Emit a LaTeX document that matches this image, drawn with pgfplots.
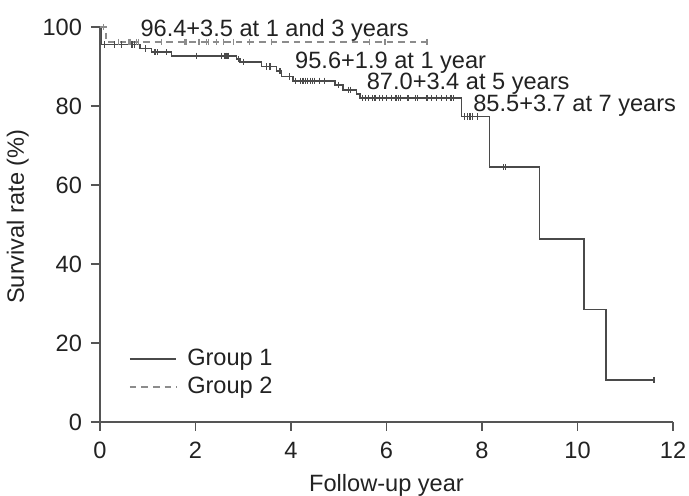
\documentclass[border=0pt]{standalone}
\usepackage{fontspec}
\setmainfont{Liberation Sans}
\usepackage{pgfplots}
\pgfplotsset{compat=1.18}
\definecolor{axgray}{HTML}{555555}
\definecolor{gone}{HTML}{4A4A4A}
\definecolor{gtwo}{HTML}{8C8C8C}
\definecolor{txt}{HTML}{222222}
\begin{document}
\begin{tikzpicture}
\begin{axis}[
  scale only axis,
  width=286.5pt, height=197.5pt,
  xmin=0, xmax=12, ymin=0, ymax=100,
  axis lines*=left,
  axis line style={axgray, line width=0.8pt, -},
  xtick={0,2,...,12}, ytick={0,20,...,100},
  tick align=outside,
  major tick length=4.5pt,
  tick style={axgray, line width=0.8pt},
  font=\fontsize{11.8}{14}\selectfont,
  every tick label/.append style={txt},
  xticklabel style={yshift=-2pt},
  yticklabel style={xshift=-1pt},
  /pgf/number format/assume math mode=true,
  xlabel={Follow-up year},
  ylabel={Survival rate (\%)},
  xlabel style={txt, yshift=-1pt},
  ylabel style={txt, at={(ticklabel cs:0.52)}},
  clip=false,
  legend style={draw=none, fill=none, at={(axis cs:0.6,19.6)}, anchor=north west,
    inner sep=0pt, row sep=0.5pt, font=\fontsize{11.8}{14}\selectfont, text=txt},
  legend cell align=left,
  legend image code/.code={\draw[#1] (0pt,0pt) -- (23.3pt,0pt); \path (26.3pt,0pt);},
]
% Group 1 step curve
\addplot[const plot, gone, line width=0.8pt] coordinates {
(0,100) (0.03,95.6) (0.84,94.6) (1.08,93.6) (1.5,92.7) (2.86,91.9) (2.93,91.1)
(3.38,90.0) (3.70,88.8) (3.80,87.5) (4.04,86.4) (4.92,85.3) (5.09,84.1) (5.37,83.0)
(5.44,82.0) (7.57,77.3) (8.16,64.5) (9.2,46.3) (10.13,28.5) (10.6,10.6) (11.6,10.6)
};
\addlegendentry{Group 1}
% Group 2 step curve
\addplot[const plot, gtwo, line width=0.8pt, dash pattern=on 3.3pt off 2.5pt] coordinates {
(0,100) (0.12,96.2) (6.85,96.2)
};
\addlegendentry{Group 2}
% Group 1 censored
\addplot[only marks, mark=|, mark size=1.6pt, gone, mark options={line width=0.6pt}, forget plot] coordinates {
(0.1,95.6) (0.3,95.6) (0.45,95.6) (0.67,95.6) (0.72,95.6) (0.95,94.6) (1.15,93.6) (1.2,93.6)
(1.4,93.6) (2.02,92.7) (2.55,92.7) (2.6,92.7) (2.64,92.7) (2.68,92.7) (2.9,91.9) (3.0,91.1)
(3.49,90.0) (3.56,90.0) (3.77,88.8) (3.97,87.5) (4.1,86.4) (4.2,86.4) (4.25,86.4) (4.3,86.4)
(4.35,86.4) (4.4,86.4) (4.45,86.4) (4.5,86.4) (4.6,86.4) (4.7,86.4) (5.0,85.3) (5.2,84.1)
(5.25,84.1) (5.5,82.0) (5.56,82.0) (5.62,82.0) (5.7,82.0) (5.76,82.0) (5.85,82.0) (5.92,82.0)
(6.0,82.0) (6.1,82.0) (6.2,82.0) (6.25,82.0) (6.3,82.0) (6.45,82.0) (6.6,82.0) (6.65,82.0)
(6.85,82.0) (6.95,82.0) (7.05,82.0) (7.15,82.0) (7.25,82.0) (7.35,82.0) (7.4,82.0)
(7.64,77.3) (7.7,77.3) (7.75,77.3) (7.8,77.3) (7.9,77.3) (8.45,64.5) (8.5,64.5) (11.6,10.6)
};
% Group 2 censored
\addplot[only marks, mark=|, mark size=1.6pt, gtwo, mark options={line width=0.6pt}, forget plot] coordinates {
(0.08,100) (0.38,96.2) (0.59,96.2) (0.63,96.2) (0.77,96.2) (0.8,96.2) (1.29,96.2) (1.78,96.2)
(1.81,96.2) (2.06,96.2) (2.09,96.2) (2.23,96.2) (2.27,96.2) (2.44,96.2) (2.58,96.2) (2.79,96.2)
(3.13,96.2) (3.59,96.2) (5.65,96.2) (5.97,96.2) (6.85,96.2)
};
% annotations
\node[anchor=base west, inner sep=0pt, text=txt] at (axis cs:0.84,97.5) {96.4+3.5 at 1 and 3 years};
\node[anchor=base west, inner sep=0pt, text=txt] at (axis cs:4.08,89.5) {95.6+1.9 at 1 year};
\node[anchor=base west, inner sep=0pt, text=txt] at (axis cs:5.58,84.05) {87.0+3.4 at 5 years};
\node[anchor=base west, inner sep=0pt, text=txt] at (axis cs:7.81,78.6) {85.5+3.7 at 7 years};
\end{axis}
\pgfresetboundingbox
\path[use as bounding box] ([xshift=-50pt,yshift=-37pt]current axis.south west) rectangle ([xshift=8pt,yshift=13.5pt]current axis.north east);
\end{tikzpicture}
\end{document}
